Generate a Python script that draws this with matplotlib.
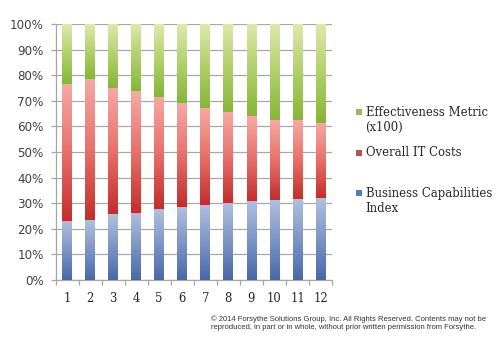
import numpy as np
import matplotlib
matplotlib.use("Agg")
import matplotlib.pyplot as plt
from matplotlib.colors import LinearSegmentedColormap
from matplotlib.patches import Rectangle

# Share of each period (percent of the stacked total)
periods = [1, 2, 3, 4, 5, 6, 7, 8, 9, 10, 11, 12]
business_capabilities = [23.1, 23.4, 25.7, 26.3, 27.7, 28.7, 29.4, 30.1, 30.9, 31.4, 31.6, 31.9]
overall_it_costs = [53.6, 55.3, 49.3, 47.5, 43.8, 40.6, 37.9, 35.5, 33.0, 31.2, 30.8, 29.4]
effectiveness = [23.3, 21.3, 25.0, 26.2, 28.5, 30.7, 32.7, 34.4, 36.1, 37.4, 37.6, 38.7]
series_names = ["Business Capabilities\nIndex", "Overall IT Costs", "Effectiveness Metric\n(x100)"]
y_ticks = [0, 10, 20, 30, 40, 50, 60, 70, 80, 90, 100]
y_tick_labels = [f"{v}%" for v in y_ticks]

# Vertical gradients (bottom -> top) and solid legend swatches
gradients = [
    ["#4868a8", "#7d95c6", "#b2c0de"],
    ["#c22e2b", "#e8706b", "#f6aaa6"],
    ["#86b636", "#b1d06c", "#dfe9ad"],
]
swatches = ["#4f81bd", "#c0504d", "#9bbb59"]

fig = plt.figure(figsize=(5.0, 3.4), dpi=100)
ax = fig.add_axes([0.111, 0.1765, 0.553, 0.753])

x = np.arange(len(periods)) + 1
grad = np.linspace(0, 1, 256).reshape(-1, 1)
bottom = np.zeros(len(periods))
for vals, stops in zip([business_capabilities, overall_it_costs, effectiveness], gradients):
    bars = ax.bar(x, vals, width=0.42, bottom=bottom, facecolor="none",
                  edgecolor="none", zorder=3)
    cmap = LinearSegmentedColormap.from_list("g", stops)
    for rect in bars:
        x0, y0 = rect.get_x(), rect.get_y()
        w, h = rect.get_width(), rect.get_height()
        im = ax.imshow(grad, cmap=cmap, origin="lower", aspect="auto",
                       extent=[x0, x0 + w, y0, y0 + h], zorder=3,
                       interpolation="bilinear")
        im.set_clip_path(rect)
    bottom = bottom + np.array(vals)

ax.set_xlim(0.5, len(periods) + 0.5)
ax.set_ylim(0, 100)

# Axes styling
for s in ["top", "right"]:
    ax.spines[s].set_visible(False)
for s in ["left", "bottom"]:
    ax.spines[s].set_color("#a6a6a6")
    ax.spines[s].set_linewidth(0.9)

ax.set_yticks(y_ticks)
ax.set_yticklabels(y_tick_labels, fontsize=8.6, color="#404040",
                   family="DejaVu Sans")
ax.tick_params(axis="y", length=3.5, width=0.9, color="#a6a6a6", pad=5)
ax.yaxis.grid(True, color="#a8a8a8", linewidth=0.9, zorder=0)
ax.set_axisbelow(True)

ax.set_xticks(x)
ax.set_xticklabels([str(p) for p in periods], fontsize=8.4, color="#262626",
                   family="DejaVu Serif")
ax.set_xticks(np.arange(len(periods) + 1) + 0.5, minor=True)
ax.tick_params(axis="x", which="major", length=0, pad=9)
ax.tick_params(axis="x", which="minor", length=3.5, width=0.9, color="#a6a6a6")

# Legend (top entry drawn first, aligned to first text line)
legend_rows = [(112, 2), (153, 1), (193, 0)]
H, W = 340.0, 500.0
for y_px, idx in legend_rows:
    fig.patches.append(Rectangle(((355.5) / W, 1 - (y_px + 3) / H), 6 / W, 6 / H,
                                 transform=fig.transFigure, facecolor=swatches[idx],
                                 edgecolor="none"))
    fig.text(365.5 / W, 1 - (y_px - 6.5) / H, series_names[idx], ha="left", va="top",
             fontsize=8.4, family="DejaVu Serif", color="#262626",
             linespacing=1.2)

fig.text(211 / W, 1 - 315 / H,
         "\u00a9 2014 Forsythe Solutions Group, Inc. All Rights Reserved. Contents may not be\n"
         "reproduced, in part or in whole, without prior written permission from Forsythe.",
         ha="left", va="top", fontsize=5.5, family="Liberation Sans",
         color="#333333", linespacing=1.2)

fig.savefig("out.png", dpi=100)
